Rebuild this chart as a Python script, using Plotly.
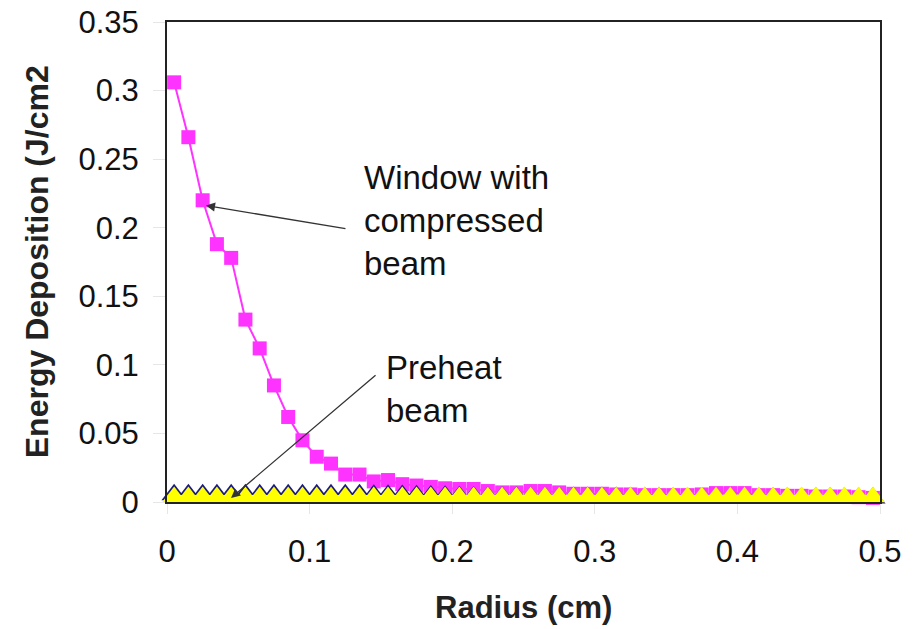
import plotly.graph_objects as go

radius = [0.005, 0.015, 0.025, 0.035, 0.045, 0.055, 0.065, 0.075, 0.085, 0.095,
          0.105, 0.115, 0.125, 0.135, 0.145, 0.155, 0.165, 0.175, 0.185, 0.195,
          0.205, 0.215, 0.225, 0.235, 0.245, 0.255, 0.265, 0.275, 0.285, 0.295,
          0.305, 0.315, 0.325, 0.335, 0.345, 0.355, 0.365, 0.375, 0.385, 0.395,
          0.405, 0.415, 0.425, 0.435, 0.445, 0.455, 0.465, 0.475, 0.485, 0.495]

window_compressed = [0.306, 0.266, 0.220, 0.188, 0.178, 0.133, 0.112, 0.085, 0.062, 0.045,
                     0.033, 0.028, 0.020, 0.020, 0.015, 0.016, 0.013, 0.012, 0.011, 0.010,
                     0.0095, 0.0095, 0.008, 0.007, 0.007, 0.008, 0.008, 0.007, 0.006, 0.006,
                     0.006, 0.0055, 0.0055, 0.005, 0.005, 0.005, 0.005, 0.0055, 0.0065, 0.0065,
                     0.0065, 0.005, 0.005, 0.0045, 0.0045, 0.004, 0.004, 0.004, 0.0035, 0.003]

preheat_navy = [0.0052, 0.0052, 0.0052, 0.0052, 0.0052, 0.0052, 0.0052, 0.0052, 0.0052, 0.0052,
                0.0052, 0.0052, 0.0052, 0.0052, 0.0050, 0.0050, 0.0048, 0.0046, 0.0044, 0.0042,
                0.0038, 0.0036, 0.0034, 0.0034, 0.0034, 0.0033, 0.0033, 0.0033, 0.0032, 0.0032,
                0.0032, 0.0032, 0.0031, 0.0031, 0.0031, 0.0030, 0.0030, 0.0030, 0.0030, 0.0030,
                0.0030, 0.0030, 0.0030, 0.0030, 0.0030, 0.0030, 0.0030, 0.0030, 0.0030, 0.0030]

preheat_yellow = [0.0036, 0.0036, 0.0036, 0.0036, 0.0036, 0.0036, 0.0036, 0.0036, 0.0036, 0.0036,
                  0.0036, 0.0036, 0.0036, 0.0036, 0.0036, 0.0036, 0.0036, 0.0036, 0.0036, 0.0036,
                  0.0036, 0.0036, 0.0036, 0.0036, 0.0036, 0.0036, 0.0036, 0.0036, 0.0036, 0.0036,
                  0.0036, 0.0036, 0.0036, 0.0036, 0.0036, 0.0036, 0.0036, 0.0036, 0.0036, 0.0036,
                  0.0036, 0.0036, 0.0036, 0.0036, 0.0036, 0.0036, 0.0036, 0.0036, 0.0036, 0.0036]

x_ticks = [0, 0.1, 0.2, 0.3, 0.4, 0.5]
x_tick_labels = ["0", "0.1", "0.2", "0.3", "0.4", "0.5"]
y_ticks = [0, 0.05, 0.1, 0.15, 0.2, 0.25, 0.3, 0.35]
y_tick_labels = ["0", "0.05", "0.1", "0.15", "0.2", "0.25", "0.3", "0.35"]

FONT = "Liberation Sans, Arial, sans-serif"

fig = go.Figure()
fig.add_trace(go.Scatter(
    x=radius, y=window_compressed, mode="lines+markers",
    line=dict(color="#FF33FF", width=2),
    marker=dict(symbol="square", size=14, color="#FF33FF"),
    cliponaxis=False, showlegend=False))
fig.add_trace(go.Scatter(
    x=radius, y=preheat_navy, mode="lines+markers",
    line=dict(color="#1a1a80", width=2),
    marker=dict(symbol="triangle-up", size=22, color="#1a1a80"),
    cliponaxis=False, showlegend=False))
fig.add_trace(go.Scatter(
    x=radius, y=preheat_yellow, mode="lines+markers",
    line=dict(color="#FFFF00", width=4),
    marker=dict(symbol="triangle-up", size=21, color="#FFFF00"),
    cliponaxis=False, showlegend=False))

annotations = [
    dict(x=0.1367, y=0.2056, xref="x", yref="y", text="Window with<br>compressed<br>beam",
         showarrow=False, xanchor="left", yanchor="middle", align="left",
         font=dict(family=FONT, size=33, color="#111")),
    dict(x=0.152, y=0.0824, xref="x", yref="y", text="Preheat<br>beam",
         showarrow=False, xanchor="left", yanchor="middle", align="left",
         font=dict(family=FONT, size=33, color="#111")),
    dict(x=0.0273, y=0.2162, ax=0.1262, ay=0.1991, xref="x", yref="y", axref="x", ayref="y",
         text="", showarrow=True, arrowhead=2, arrowsize=1.4, arrowwidth=1.3, arrowcolor="#333"),
    dict(x=0.0449, y=0.0029, ax=0.1473, ay=0.0933, xref="x", yref="y", axref="x", ayref="y",
         text="", showarrow=True, arrowhead=2, arrowsize=1.4, arrowwidth=1.3, arrowcolor="#333"),
    dict(x=0.5, y=-0.219, xref="paper", yref="paper", text="<b>Radius (cm)</b>",
         showarrow=False, xanchor="center", yanchor="middle",
         font=dict(family=FONT, size=31, color="#222")),
    dict(x=-0.182, y=0.5, xref="paper", yref="paper", text="<b>Energy Deposition (J/cm2</b>",
         showarrow=False, xanchor="center", yanchor="middle", textangle=-90,
         font=dict(family=FONT, size=32, color="#222")),
]

fig.update_layout(
    width=924, height=629,
    margin=dict(l=167, r=44, t=22, b=127, autoexpand=False),
    paper_bgcolor="white", plot_bgcolor="white",
    font=dict(family=FONT, size=31, color="#111"),
    annotations=annotations,
)
fig.update_xaxes(
    range=[0, 0.5], tickmode="array", tickvals=x_ticks, ticktext=x_tick_labels,
    showgrid=False, zeroline=False, showline=True, linecolor="#222", linewidth=2, mirror=True,
    ticks="outside", ticklen=10, tickcolor="#e6e6e6", ticklabelstandoff=11, automargin=False,
    ticklabeloverflow="allow",
    tickfont=dict(family=FONT, size=31, color="#111"))
fig.update_yaxes(
    range=[0, 0.35], tickmode="array", tickvals=y_ticks, ticktext=y_tick_labels,
    showgrid=False, zeroline=False, showline=True, linecolor="#222", linewidth=2, mirror=True,
    ticks="outside", ticklen=12, tickcolor="#e6e6e6", ticklabelstandoff=8, automargin=False,
    ticklabeloverflow="allow",
    tickfont=dict(family=FONT, size=31, color="#111"))

fig.write_html(
    "out.html",
    config={"displayModeBar": False},
    post_script="document.body.style.margin='0';document.body.style.overflow='hidden';",
)
